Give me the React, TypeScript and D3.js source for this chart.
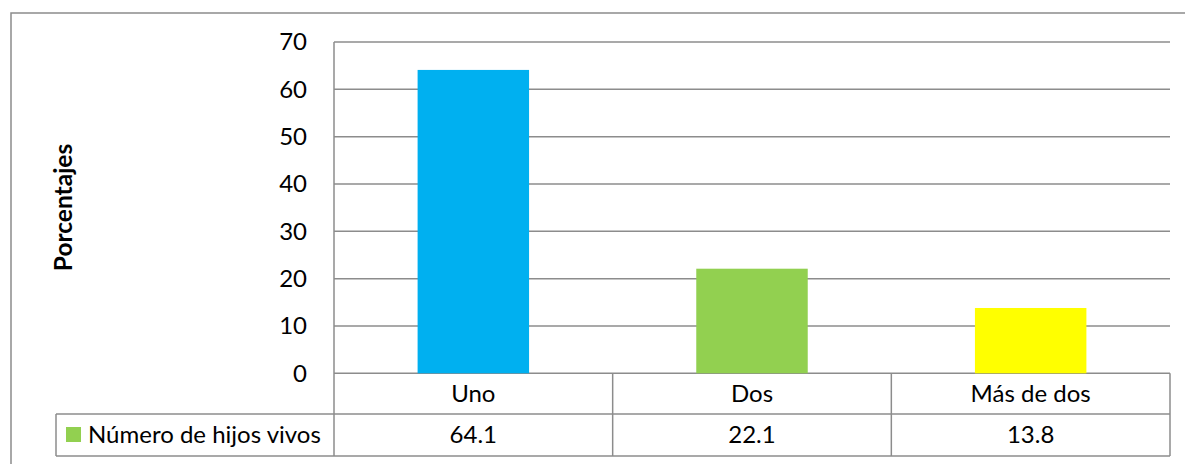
import React from "react";
import * as d3 from "d3";

const categories = ["Uno", "Dos", "Más de dos"];
const values = [64.1, 22.1, 13.8];
const colors = ["#00B0F0", "#92D050", "#FFFF00"];
const yTicks = [0, 10, 20, 30, 40, 50, 60, 70];
const seriesName = "Número de hijos vivos";
const yTitle = "Porcentajes";

export default function App() {
  const W = 1185, H = 464;
  const left = 334, right = 1170, top = 42, bottom = 373.3;
  const row1 = 414, row2 = 456, legendLeft = 56;
  const x = d3.scaleBand<string>().domain(categories).range([left, right]).paddingInner(0.6).paddingOuter(0.3);
  const band = d3.scaleBand<string>().domain(categories).range([left, right]);
  const y = d3.scaleLinear().domain([0, 70]).range([bottom, top]);
  const grid = "#8c8c8c";
  const font = "Lato, 'Open Sans', sans-serif";
  const fs = 24;
  return (
    <div style={{ position: "absolute", left: 0, top: 0 }}>
      <svg width={W} height={H} style={{ display: "block", fontFamily: font }}>
        <rect x={0} y={0} width={W} height={H} fill="#fff" />
        <rect x={11} y={13} width={1200} height={500} fill="none" stroke={grid} strokeWidth={1.5} />
        {yTicks.map((t) => (
          <g key={t}>
            <line x1={left} x2={right} y1={y(t)} y2={y(t)} stroke={grid} strokeWidth={1.5} />
            <text x={307} y={y(t)} dy="0.35em" textAnchor="end" fontSize={fs} fill="#000">{t}</text>
          </g>
        ))}
        {categories.map((c, i) => (
          <rect key={c} x={x(c)} y={y(values[i])} width={x.bandwidth()} height={y(0) - y(values[i])} fill={colors[i]} />
        ))}
        <line x1={left} x2={left} y1={top} y2={row2} stroke={grid} strokeWidth={1.5} />
        <line x1={legendLeft} x2={right} y1={row1} y2={row1} stroke={grid} strokeWidth={1.5} />
        <line x1={legendLeft} x2={right} y1={row2} y2={row2} stroke={grid} strokeWidth={1.5} />
        <line x1={legendLeft} x2={legendLeft} y1={row1} y2={row2} stroke={grid} strokeWidth={1.5} />
        {categories.map((c) => (
          <line key={c} x1={(band(c) as number) + band.bandwidth()} x2={(band(c) as number) + band.bandwidth()} y1={bottom} y2={row2} stroke={grid} strokeWidth={1.5} />
        ))}
        {categories.map((c, i) => (
          <g key={c}>
            <text x={(band(c) as number) + band.bandwidth() / 2} y={(bottom + row1) / 2} dy="0.35em" textAnchor="middle" fontSize={fs} fill="#000">{c}</text>
            <text x={(band(c) as number) + band.bandwidth() / 2} y={(row1 + row2) / 2} dy="0.35em" textAnchor="middle" fontSize={fs} fill="#000">{values[i].toFixed(1)}</text>
          </g>
        ))}
        <rect x={66} y={427} width={15} height={15} fill={colors[1]} />
        <text x={88} y={(row1 + row2) / 2} dy="0.35em" fontSize={fs} fill="#000">{seriesName}</text>
        <text transform={`translate(72,207.5) rotate(-90)`} textAnchor="middle" fontSize={24.5} fontWeight="bold" fill="#000">{yTitle}</text>
      </svg>
    </div>
  );
}
